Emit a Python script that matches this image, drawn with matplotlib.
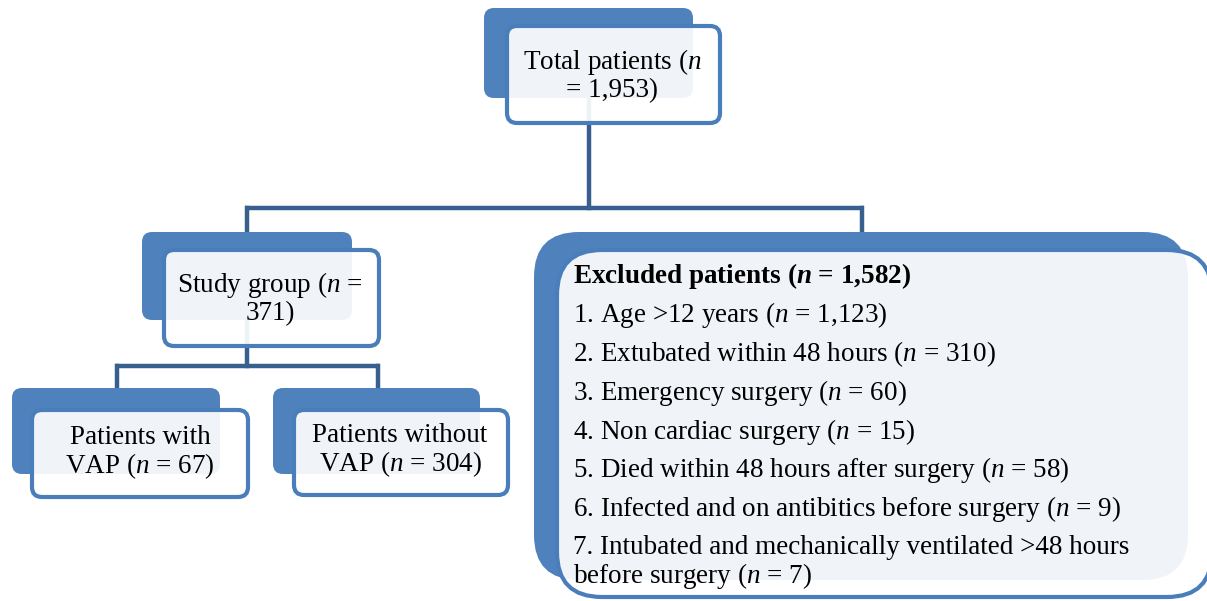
import matplotlib.pyplot as plt
from matplotlib.patches import FancyBboxPatch

plt.rcParams["font.family"] = "Liberation Serif"
plt.rcParams["mathtext.fontset"] = "custom"
plt.rcParams["mathtext.rm"] = "Liberation Serif"
plt.rcParams["mathtext.it"] = "Liberation Serif:italic"
plt.rcParams["mathtext.bf"] = "Liberation Serif:bold"
plt.rcParams["mathtext.bfit"] = "Liberation Serif:bold:italic"

# counts in the flow
total_n = 1953
study_n = 371
vap_n = 67
no_vap_n = 304
excluded_n = 1582

excluded_reasons = [
    "Age >12 years",
    "Extubated within 48 hours",
    "Emergency surgery",
    "Non cardiac surgery",
    "Died within 48 hours after surgery",
    "Infected and on antibitics before surgery",
    "Intubated and mechanically ventilated >48 hours\nbefore surgery",
]
excluded_counts = [1123, 310, 60, 15, 58, 9, 7]

blue = "#4F81BD"
edge = "#4A7EBB"
line_c = "#37608F"
front_fill = (1, 1, 1, 0.92)
fs = 19.5
ls = 1.04

fig = plt.figure(figsize=(12.07, 6.01), dpi=100)
ax = fig.add_axes([0, 0, 1, 1])
ax.set_xlim(0, 1207)
ax.set_ylim(601, 0)
ax.axis("off")


def box(x, y, w, h, r, fill, ec=None, lw=0, z=2):
    p = FancyBboxPatch((x, y), w, h, boxstyle=f"round,pad=0,rounding_size={r}",
                       facecolor=fill, edgecolor=ec if ec else "none",
                       linewidth=lw, zorder=z)
    ax.add_patch(p)


def node(back, front, r=10):
    box(*back, r, blue, z=2)
    box(*front, r, front_fill, ec=edge, lw=3, z=3)


def n_str(v):
    return f"($n$ = {v:,})"


# connectors
lw_c = 3.2
ax.plot([589, 589], [98, 208], color=line_c, lw=lw_c, zorder=1)
ax.plot([245, 864], [208, 208], color=line_c, lw=lw_c, zorder=1, solid_capstyle="butt")
ax.plot([247, 247], [208, 234], color=line_c, lw=lw_c, zorder=1)
ax.plot([862, 862], [208, 234], color=line_c, lw=lw_c, zorder=1)
ax.plot([247, 247], [320, 366], color=line_c, lw=lw_c, zorder=1)
ax.plot([115, 380], [366, 366], color=line_c, lw=lw_c, zorder=1, solid_capstyle="butt")
ax.plot([117, 117], [366, 390], color=line_c, lw=lw_c, zorder=1)
ax.plot([378, 378], [366, 390], color=line_c, lw=lw_c, zorder=1)

# boxes
node((484, 8, 209, 90), (507, 26, 213, 97))
ax.text(612, 75, f"Total patients ($n$\n= {total_n:,})", ha="center", va="center",
        fontsize=fs, linespacing=ls, zorder=4)

node((142, 232, 210, 88), (164, 250, 215, 96))
ax.text(270, 298, f"Study group ($n$ =\n{study_n})", ha="center", va="center",
        fontsize=fs, linespacing=ls, zorder=4)

node((12, 388, 208, 86), (32, 410, 216, 87))
ax.text(140, 453, f"Patients with\nVAP {n_str(vap_n)}", ha="center", va="center",
        fontsize=fs, linespacing=ls, zorder=4)

node((273, 388, 207, 86), (294, 410, 214, 85))
ax.text(400, 451, f"Patients without\nVAP {n_str(no_vap_n)}", ha="center", va="center",
        fontsize=fs, linespacing=ls, zorder=4)

box(534, 232, 654, 348, 45, blue, z=2)
box(557, 250, 655, 347, 45, front_fill, ec=edge, lw=3, z=3)

ax.text(573, 276, f"Excluded patients ($\\mathbfit{{n}}$ = {excluded_n:,})",
        fontsize=fs, fontweight="bold", va="center", zorder=4)
ys = [315, 354, 393, 432, 470, 509, 549]
for i, (lab, cnt, y) in enumerate(zip(excluded_reasons, excluded_counts, ys)):
    if "\n" in lab:
        a, b = lab.split("\n")
        txt = f"{i + 1}. {a}\n{b} {n_str(cnt)}"
        ax.text(573, y + 14, txt, fontsize=fs, va="center", linespacing=ls, zorder=4)
    else:
        ax.text(573, y, f"{i + 1}. {lab} {n_str(cnt)}", fontsize=fs, va="center", zorder=4)

fig.savefig("out.png", dpi=100)
